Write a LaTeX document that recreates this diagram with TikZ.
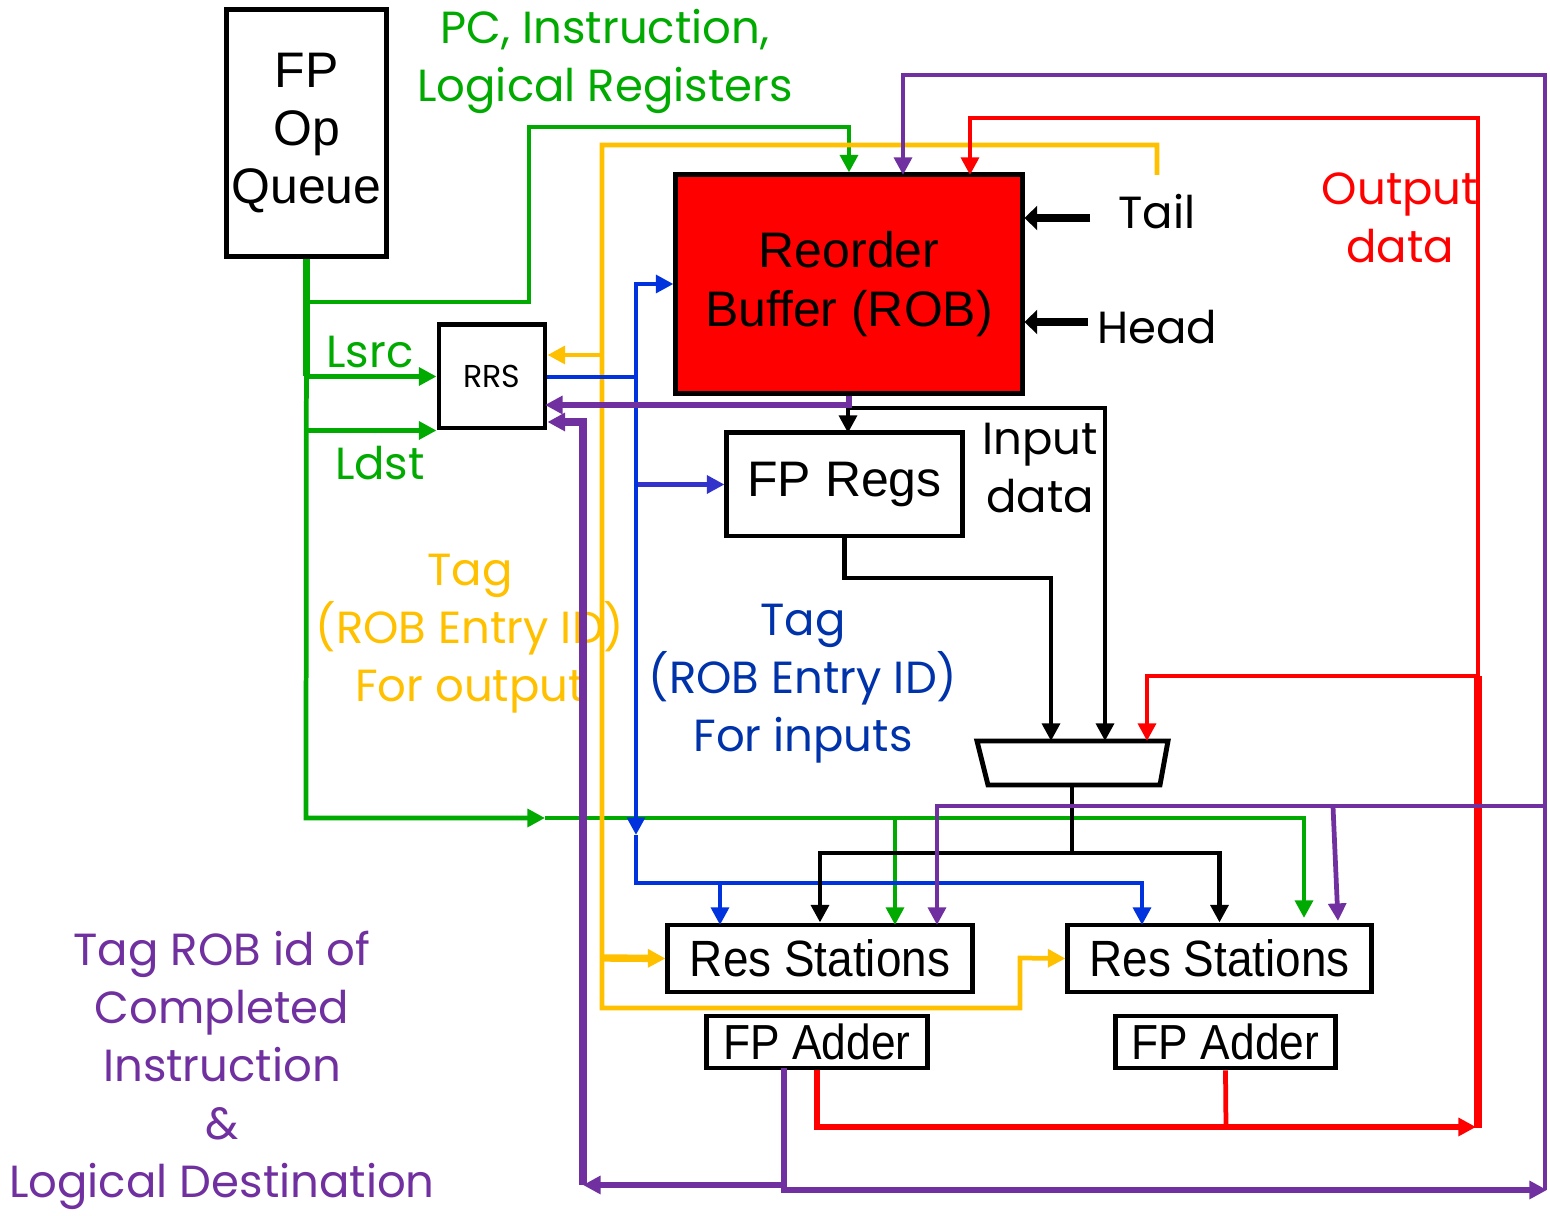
\documentclass[tikz,border=0pt]{standalone}
\usepackage{fontspec}
\setmainfont{Liberation Sans}
\newfontfamily\comic{Poppins}
\usetikzlibrary{arrows.meta}
\usetikzlibrary{positioning}
\definecolor{pgreen}{HTML}{00AA00}
\definecolor{pyellow}{HTML}{FFC000}
\definecolor{pblue}{HTML}{0033DD}
\definecolor{pbluetxt}{HTML}{0033AA}
\definecolor{pviolet}{HTML}{3333CC}
\definecolor{ppurple}{HTML}{7030A0}
\tikzstyle{box}=[draw=black,line width=1.4pt,fill=white,inner sep=0pt,align=center,font=\fontsize{14.2}{16.6}\selectfont]
\tikzstyle{wire}=[line width=1.35pt]
\tikzstyle{arr}=[->,>={Triangle[length=5pt,width=5pt]},line width=1.35pt]
\tikzstyle{fat}=[line width=2.1pt]
\tikzstyle{ptr}=[->,>={Triangle[length=3.6pt,width=6.8pt]},line width=2.4pt]
\tikzstyle{lbl}=[font=\comic\fontsize{12.8}{16.5}\selectfont,align=center,inner sep=0pt]

\begin{document}
\begin{tikzpicture}[x=0.01cm,y=-0.01cm]
  \useasboundingbox (0,0) rectangle (1550,1216);
  % labels
  \node[lbl,pgreen] (pctxt) at (605,61) {PC, Instruction,\\Logical Registers};
  \node[lbl,pgreen] (lsrc) at (370,352) {Lsrc};
  \node[lbl,pgreen] (ldst) at (380,463) {Ldst};
  \node[lbl,pyellow] (outtag) at (470,634) {Tag\\(ROB Entry ID)\\For output};
  \node[lbl,pbluetxt] (intag) at (803,684) {Tag\\(ROB Entry ID)\\For inputs};
  \node[lbl] (indata) at (1040,468) {Input\\data};
  \node[lbl] (tailtxt) at (1157,212) {Tail};
  \node[lbl] (headtxt) at (1157,327) {Head};
  \node[lbl,red] (outdata) at (1400,218) {Output\\data};
  \node[lbl,ppurple] (cdb) at (222,1070) {Tag ROB id of\\Completed\\Instruction\\\&\\Logical Destination};
  % blocks
  \node[box,minimum width=1.59cm,minimum height=2.47cm] (opq) at (306.5,133) {FP\\Op\\Queue};
  \node[box,fill=red,minimum width=3.46cm,minimum height=2.18cm] (rob) at (849,284) {Reorder\\Buffer (ROB)};
  \node[box,minimum width=1.06cm,minimum height=1.03cm,font=\comic\fontsize{9}{11}\selectfont] (rrs) at (492,376.5) {RRS};
  \node[box,minimum width=2.35cm,minimum height=1.03cm] (regs) at (844.5,484.5) {FP Regs};
  \node[box,minimum width=3.04cm,minimum height=0.67cm,font=\fontsize{14.5}{16}\selectfont] (rs1) at (820,958.5) {\scalebox{0.9}[1]{Res Stations}};
  \node[box,minimum width=3.03cm,minimum height=0.67cm,font=\fontsize{14.5}{16}\selectfont] (rs2) at (1219.5,958.5) {\scalebox{0.9}[1]{Res Stations}};
  \node[box,minimum width=2.2cm,minimum height=0.52cm,font=\fontsize{14}{16}\selectfont] (add1) at (817,1042) {\scalebox{0.9}[1]{FP Adder}};
  \node[box,minimum width=2.19cm,minimum height=0.52cm,font=\fontsize{14}{16}\selectfont] (add2) at (1225.5,1042) {\scalebox{0.9}[1]{FP Adder}};
  \draw[line width=1.4pt] (977,741) -- (1168,741) -- (1160,785) -- (988,785) -- cycle;
  \coordinate (muxout) at (1072,785);
  % green
  \draw[fat,pgreen] (opq.south) -- (opq.south |- rrs.west);
  \draw[arr,pgreen] (opq.south) |- (529,302) -- (529,127) -| (rob.north);
  \draw[arr,pgreen] (opq.south |- rrs.west) -- (rrs.west);
  \draw[arr,pgreen] (opq.south |- rrs.south west) -- (rrs.south west);
  \draw[arr,pgreen] (opq.south) -- (306,818) -- (545,818);
  \draw[arr,pgreen] (545,818) -| (1304,918);
  \draw[arr,pgreen] (895,818) -- (895,925);
  % yellow
  \coordinate (ytap) at (602,355);
  \draw[arr,pyellow] (1157,175) |- (602,145) -- (602,1008) -| (1020,958) -- (rs2.west);
  \draw[arr,pyellow] (ytap) -- (ytap -| rrs.east);
  \draw[arr,fat,pyellow] (602,958) -- (rs1.west);
  % blue
  \coordinate (bx) at (636,377);
  \draw[arr,pblue] (rrs.east |- bx) -- (bx) |- (rob.west);
  \draw[arr,pviolet] (bx) |- (regs.west);
  \draw[arr,pblue] (bx) -- (636,835);
  \draw[arr,pblue] (636,835) -- (636,883) -| (1142,925);
  \draw[arr,pblue] (720,883) -- (720,925);
  % black
  \draw[arr] (848,408) -- (848,433);
  \draw[arr] (848,408) -| (1105,741);
  \draw[arr] (regs.south) |- (1051,578) -- (1051,741);
  \draw[wire] (muxout) -- (1072,853);
  \draw[arr] (1072,853) -| (rs1.north);
  \draw[arr] (1072,853) -| (rs2.north);
  \coordinate (tl) at (1090,218);
  \coordinate (hd) at (1088,322);
  \draw[ptr] (tl) -- (tl -| rob.east);
  \draw[ptr] (hd) -- (hd -| rob.east);
  % red
  \coordinate (rbus) at (1478,676);
  \draw[arr,red] (rbus) |- (970,118) -- (970,175);
  \draw[fat,red] (rbus) -- (1478,1128);
  \draw[arr,red] (rbus) -| (1147,741);
  \draw[arr,red,line width=1.6pt] (add1.south) |- (1476,1127);
  \draw[wire,red] (add2.south) -- (1226,1127);
  % purple
  \coordinate (pa) at (784,1068);
  \coordinate (ptap) at (583,422);
  \draw[arr,ppurple,line width=1.7pt] (pa) |- (1547,1190);
  \draw[arr,ppurple,line width=1.7pt] (784,1185) -- (583,1185);
  \draw[arr,ppurple,fat] (583,1185) -- (ptap) -- (ptap -| rrs.east);
  \draw[arr,ppurple] (1545,1190) |- (903,75) -- (903,175);
  \draw[arr,ppurple] (1545,806) -| (937,925);
  \draw[arr,ppurple] (1333,806) -- (1338,921);
  \draw[arr,ppurple,line width=1.7pt] (rob.south) |- (545,405);
\end{tikzpicture}
\end{document}
